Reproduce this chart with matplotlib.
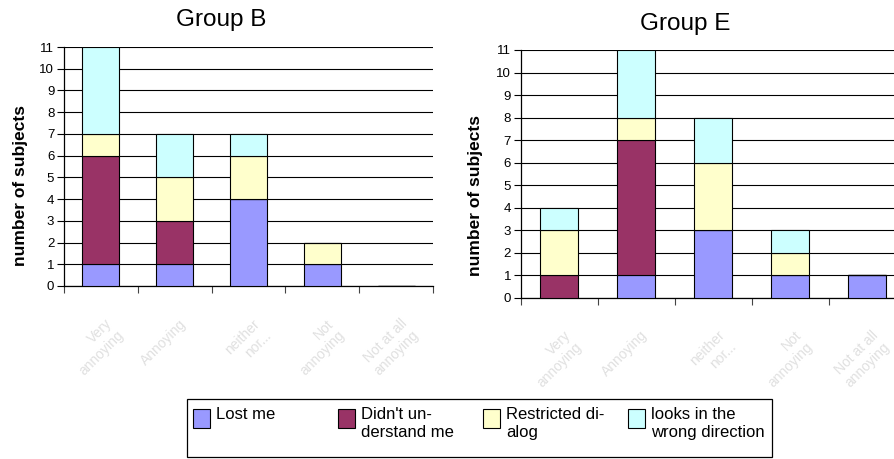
import matplotlib
matplotlib.use('Agg')
import matplotlib.pyplot as plt
from matplotlib.patches import Rectangle
import numpy as np

plt.rcParams['font.family'] = ['Liberation Sans', 'DejaVu Sans']

# ---------------- data ----------------
categories = ["Very\nannoying", "Annoying", "neither\nnor...", "Not\nannoying", "Not at all\nannoying"]
series_names = ["Lost me", "Didn't un-\nderstand me", "Restricted di-\nalog", "looks in the\nwrong direction"]
series_colors = ['#9999FF', '#993366', '#FFFFCC', '#CCFFFF']

groupB_lost = [1, 1, 4, 1, 0]
groupB_didnt = [5, 2, 0, 0, 0]
groupB_restricted = [1, 2, 2, 1, 0]
groupB_looks = [4, 2, 1, 0, 0]

groupE_lost = [0, 1, 3, 1, 1]
groupE_didnt = [1, 6, 0, 0, 0]
groupE_restricted = [2, 1, 3, 1, 0]
groupE_looks = [1, 3, 2, 1, 0]

yticks = list(range(0, 12))

# ---------------- figure ----------------
W, H = 895, 459
fig = plt.figure(figsize=(W / 100, H / 100), dpi=100)
fig.patch.set_facecolor('white')


def px_axes(left, top, right, bottom):
    return fig.add_axes([left / W, 1 - bottom / H, (right - left) / W, (bottom - top) / H])


axB = px_axes(64, 47, 433, 286)
axE = px_axes(520.7, 50, 905.7, 297.7)


def draw(ax, data, title, title_xy, ylabel_xy):
    x = np.arange(len(categories)) + 0.5
    bottom = np.zeros(len(categories))
    for vals, col in zip(data, series_colors):
        vals = np.array(vals, dtype=float)
        ax.bar(x, vals, width=0.5, bottom=bottom, color=col, edgecolor='black',
               linewidth=0.8, zorder=3)
        bottom += vals
    ax.set_xlim(0, len(categories))
    ax.set_ylim(0, 11)
    ax.set_yticks(yticks)
    ax.set_yticklabels([str(v) for v in yticks], fontsize=9.5)
    ax.set_xticks(np.arange(len(categories) + 1))
    ax.set_xticklabels([])
    ax.tick_params(axis='x', direction='out', length=5, width=0.8, color='#444444')
    ax.tick_params(axis='y', direction='out', length=5, width=0.8, pad=2)
    ax.yaxis.grid(True, color='black', linewidth=0.8, zorder=0)
    ax.set_axisbelow(True)
    for s in ['top', 'right']:
        ax.spines[s].set_visible(False)
    ax.spines['left'].set_linewidth(0.9)
    ax.spines['bottom'].set_linewidth(0.9)
    ax.set_facecolor('white')
    for i, lab in enumerate(categories):
        ax.annotate(lab, xy=(i + 0.5, 0), xycoords=('data', 'axes fraction'),
                    xytext=(3, -22), textcoords='offset points', rotation=45,
                    ha='right', va='top', rotation_mode='anchor', color='#e0e0e0',
                    fontsize=10, annotation_clip=False)
    # title
    fig.text(title_xy[0] / W, 1 - title_xy[1] / H, title, fontsize=17.5,
             ha='center', va='baseline')
    # ylabel
    fig.text(ylabel_xy[0] / W, 1 - ylabel_xy[1] / H, 'number of subjects',
             fontsize=12.5, fontweight='bold', rotation=90, ha='center', va='center',
             rotation_mode='anchor')


draw(axB, [groupB_lost, groupB_didnt, groupB_restricted, groupB_looks], 'Group B',
     (221, 26), (21, 185))
draw(axE, [groupE_lost, groupE_didnt, groupE_restricted, groupE_looks], 'Group E',
     (685, 30), (476, 195))

# ---------------- legend ----------------
box = Rectangle((187 / W, 1 - 457 / H), (772 - 187) / W, (457 - 399) / H,
                transform=fig.transFigure, fill=False, edgecolor='black', linewidth=0.9)
fig.patches.append(box)
for k, (name, col) in enumerate(zip(series_names, series_colors)):
    sx = 193 + k * 145
    sq = Rectangle((sx / W, 1 - 428 / H), 17 / W, 19 / H, transform=fig.transFigure,
                   facecolor=col, edgecolor='black', linewidth=0.8)
    fig.patches.append(sq)
    fig.text((sx + 23) / W, 1 - 407 / H, name, fontsize=12, ha='left', va='top',
             linespacing=1.25)

fig.savefig('out.png', dpi=100)
